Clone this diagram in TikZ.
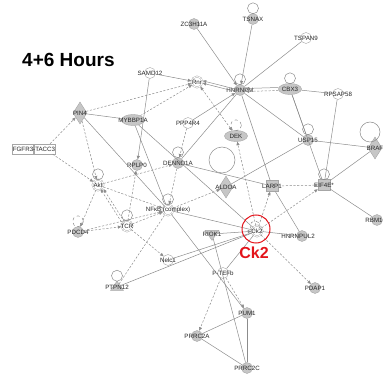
\documentclass[tikz,border=0pt]{standalone}
\usepackage{fontspec}
\setmainfont{Liberation Sans}
\usetikzlibrary{shapes.geometric,calc,arrows.meta}
\definecolor{ln}{HTML}{8C8C8C}
\definecolor{nf}{HTML}{C6C6C6}
\definecolor{nb}{HTML}{A6A6A6}
\definecolor{ckred}{HTML}{E3141B}
\tikzset{
 base/.style={inner sep=0pt, draw=nb, line width=0.4pt},
 gc/.style={base, circle, fill=nf, minimum size=11pt},
 wc/.style={base, circle, fill=white, minimum size=11pt},
 dc/.style={base, circle, fill=white, double=white, double distance=0.8pt, minimum size=11pt},
 ge/.style={base, ellipse, fill=nf, minimum width=23pt, minimum height=11pt},
 gd/.style={base, diamond, fill=nf, minimum width=14pt, minimum height=22pt, aspect=0.6},
 gs/.style={base, rectangle, fill=nf, minimum width=12pt, minimum height=11pt},
 gtd/.style={base, isosceles triangle, isosceles triangle apex angle=70, shape border rotate=-90, fill=nf, minimum width=14pt, minimum height=10pt},
 gtu/.style={base, isosceles triangle, isosceles triangle apex angle=70, shape border rotate=90, fill=nf, minimum width=13pt, minimum height=9pt},
 fus/.style={base, rectangle, fill=white, minimum width=21pt, minimum height=10pt},
 lab/.style={font=\fontsize{6.2}{7}\selectfont, text=black!85, inner sep=0pt},
 e/.style={draw=ln, line width=0.5pt},
 ed/.style={e, dash pattern=on 2.2pt off 1.6pt},
 ar/.style={-{Triangle[length=3.5pt,width=3pt]}},
 lp/.style={draw=ln, line width=0.5pt},
}
\newcommand\nd[4]{\node[#1] (#2) at (#3) {}; \node[lab] (#2l) at (#3) {#4};}
\newcommand\lop[2]{\draw[lp,#2] ($(#1.north)+(0,-5)$) circle (5.5);}
\begin{document}
\begin{tikzpicture}[x=1pt,y=-1pt]
\useasboundingbox (0,0) rectangle (383,374);
\node[font=\bfseries\fontsize{19}{22}\selectfont, anchor=west, inner sep=0pt] (title) at (22,60) {4+6 Hours};
% nodes
\nd{gc}{zc}{194,24}{ZC3H11A}
\nd{gc}{tsnax}{253,19}{TSNAX}
\nd{wc}{tspan}{306,38}{TSPAN9}
\nd{wc}{samd}{150,73}{SAMD12}
\node[dc] (rnr) at (197,82) {};
\nd{gc}{hnrnpm}{240,90}{HNRNPM}
\nd{ge}{cbx}{290,89}{CBX3}
\nd{wc}{rps}{338,94}{RPSAP58}
\nd{gd}{pin}{80,113}{PIN4}
\nd{ge}{myb}{133,120}{MYBBP1A}
\nd{wc}{ppp}{188,123}{PPP4R4}
\nd{ge}{dek}{236,136}{DEK}
\nd{gc}{usp}{308,140}{USP15}
\nd{gd}{braf}{375,148}{BRAF}
\node[fus] (fg1) at (23,149) {};
\node[fus] (fg2) at (45,149) {};
\node[lab] (fgl) at (34,149) {FGFR3-TACC3};
\nd{gc}{rplp}{137,165}{RPLP0}
\nd{gc}{denn}{178,163}{DENND1A}
\nd{dc}{akt}{98,185}{Akt}
\nd{gd}{aldoa}{226,187}{ALDOA}
\nd{gs}{larp}{272,186}{LARP1}
\nd{gs}{eif}{324,185}{EIF4E*}
\nd{dc}{nfkb}{168,210}{NFκB (complex)}
\nd{dc}{tcr}{127,226}{TCR}
\nd{gc}{pdcd}{78,232}{PDCD4}
\nd{gtd}{riok}{212,234}{RIOK1}
\nd{dc}{ck}{257,231}{Ck2}
\node[gc] (hnrnpul) at (302,236) {};
\node[lab] (hnrnpull) at (298,236) {HNRNPUL2};
\node[gc] (rbm) at (377,220) {};
\node[lab] (rbml) at (374,220) {RBM1};
\nd{wc}{nek}{168,260}{Nelc1}
\nd{wc}{ptefb}{223,273}{P-TEFb}
\nd{gtu}{ptpn}{117,287}{PTPN12}
\nd{gc}{pdap}{315,288}{PDAP1}
\nd{gc}{pum}{247,313}{PUM1}
\nd{gc}{prrca}{197,336}{PRRC2A}
\nd{gc}{prrcc}{247,368}{PRRC2C}
% loops
\lop{tsnax}{}
\lop{hnrnpm}{}
\lop{cbx}{}
\lop{dek}{dashed}
\lop{usp}{}
\draw[lp] (370,132) circle (10);
\lop{denn}{}
\lop{akt}{}
\draw[lp] (222,160) circle (13);
\lop{eif}{}
\lop{nfkb}{}
\lop{tcr}{}
\lop{pdcd}{dashed}
\lop{ptpn}{}
\draw[lp,dashed] ($(ck)+(-2,-5)$) circle (5);
% solid edges
\draw[e,ar] (zc) -- (hnrnpm);
\draw[e,ar] (tsnax) -- (hnrnpm);
\draw[e] (tspan) -- (hnrnpm);
\draw[e,ar] ([yshift=1.5pt]cbx.west) -- ([yshift=1.5pt]hnrnpm.east);
\draw[ed,ar] ([yshift=-1.5pt]cbx.west) -- ([yshift=-1.5pt]hnrnpm.east);
\draw[e] (cbx) -- (rps);
\draw[e] (cbx) -- (usp);
\draw[e] (cbx) -- (eif);
\draw[e,ar] ([yshift=-1.2pt]hnrnpm.west) -- ([yshift=-1.2pt]rnr.east);
\draw[e,ar] ([yshift=1.2pt]hnrnpm.west) -- ([yshift=1.2pt]rnr.east);
\draw[e,ar] (samd) -- (rnr);
\draw[e,ar] (samd) -- (rplp);
\draw[e,ar] (ppp) -- (hnrnpm);
\draw[e] (hnrnpm) -- (denn);
\draw[e] (hnrnpm) -- (larp);
\draw[e] (hnrnpm) -- (usp);
\draw[e] (rps) -- (eif);
\draw[e] (usp) -- (braf);
\draw[e] (eif) -- (braf);
\draw[e] (usp) -- (aldoa);
\draw[e] (eif) -- (rbm);
\draw[e] (larp) -- (hnrnpul);
\draw[e] (ck) -- (hnrnpul);
\draw[e,ar] (riok) -- (ck);
\draw[e] (nfkb) -- (ck);
\draw[e] (nek) -- (ck);
\draw[e] (ck) -- (ptefb);
\draw[e] (ck) -- (ptpn);
\draw[e] (pin) -- (myb);
\draw[e] (myb) -- (nfkb);
\draw[e] (myb) -- (ck);
\draw[e] (pin) -- (nfkb);
\draw[e] (denn) -- (larp);
\draw[e] (nfkb) -- (pum);
\draw[e] (riok) -- (prrcc);
\draw[e] (pum) -- (prrca);
\draw[e] (pum) -- (prrcc);
\draw[e] (prrca) -- (prrcc);
% dashed edges
\draw[ed,ar] (pin) -- (rnr);
\draw[ed,ar] (myb) -- (rnr);
\draw[ed,ar] (fg2) -- (pin);
\draw[ed,ar] (fg2) -- (akt);
\draw[ed,ar] (pin) -- (akt);
\draw[ed,{Triangle[length=3.5pt,width=3pt]}-{Triangle[length=3.5pt,width=3pt]}] (rnr) -- (dek);
\draw[ed,ar] (ck) -- (dek);
\draw[ed,ar] ([xshift=-1.5pt]tcr.north west) -- ([xshift=-1.5pt]akt.south east);
\draw[ed,ar] ([xshift=1.5pt]tcr.north west) -- ([xshift=1.5pt]akt.south east);
\draw[ed,ar] (akt) -- (pdcd);
\draw[ed,ar] (pdcd) -- (tcr);
\draw[ed,ar] (pdcd) -- (nfkb);
\draw[ed,ar] (akt) -- (nfkb);
\draw[ed,ar] (akt) -- (denn);
\draw[ed,ar] (tcr) -- (rplp);
\draw[ed,ar] (tcr) -- (nfkb);
\draw[ed,ar] (nfkb) -- (aldoa);
\draw[ed,ar] (denn) -- (nfkb);
\draw[ed,ar] (ppp) -- (denn);
\draw[ed,ar] (tcr) -- (nek);
\draw[ed] (ptpn) -- (nfkb);
\draw[ed,ar] (larp) -- (eif);
\draw[ed,ar] (ck) -- (larp);
\draw[ed,ar] (ck) -- (eif);
\draw[ed,ar] (ck) -- (pdap);
\draw[ed,ar] (ptefb) -- (prrca);
\draw[ed,ar] (ptefb) -- (pum);
% Rnr label on top of the arrow tips
\node[lab, fill=white, fill opacity=0.6, text opacity=1] (rnrl) at (197,82) {Rnr};
% highlight
\draw[ckred, line width=1pt] (256,229) circle (14);
\node[font=\bfseries\fontsize{16}{18}\selectfont, text=ckred, inner sep=0pt] (cklab) at (254,253) {Ck2};
\end{tikzpicture}
\end{document}
